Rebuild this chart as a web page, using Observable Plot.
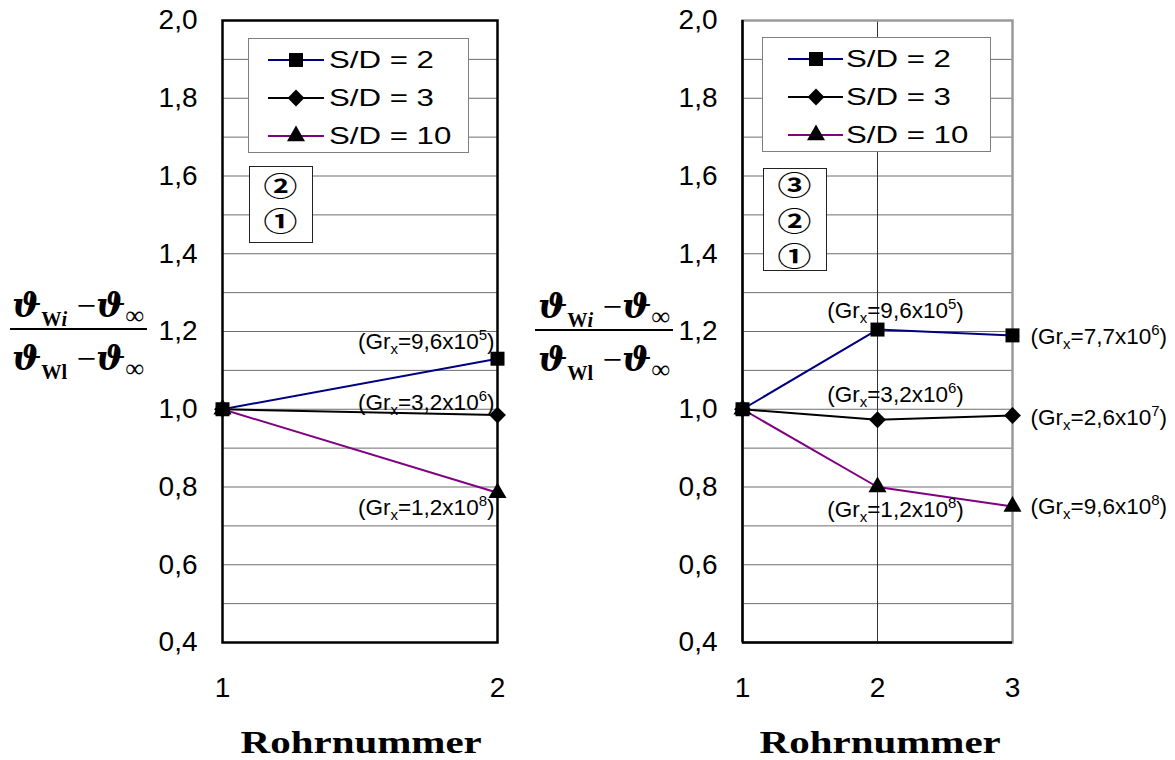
<!DOCTYPE html>
<html><head><meta charset="utf-8">
<script src="https://cdn.jsdelivr.net/npm/d3@7"></script>
<script src="https://cdn.jsdelivr.net/npm/@observablehq/plot@0.6"></script>
<style>
body{margin:0;background:#fff;}
#wrap{position:relative;width:1175px;height:760px;overflow:hidden;font-family:"Liberation Sans",Arial,sans-serif;}
.plot{position:absolute;top:0;}
.box{position:absolute;box-sizing:border-box;background:#fff;}
.row{position:absolute;white-space:nowrap;}
.frac{position:absolute;text-align:center;font-family:"Liberation Serif","Times New Roman",serif;font-weight:bold;font-size:36px;line-height:36px;height:36px;white-space:nowrap;}
.frac span.in{display:inline-block;transform-origin:50% 50%;}
.frac .th{font-family:"DejaVu Serif",serif;font-style:italic;font-size:34px;}
.frac .mi{font-family:"Liberation Serif",serif;font-weight:normal;font-size:34px;}
.frac sub{font-size:20px;vertical-align:-9px;line-height:0;}
.frac sub.inf{font-size:26px;vertical-align:-7px;font-weight:normal;}
.xl{position:absolute;text-align:center;font-family:"Liberation Serif","Times New Roman",serif;font-weight:bold;font-size:32px;line-height:32px;white-space:nowrap;}
.xl span{display:inline-block;transform:scaleX(1.28);transform-origin:50% 50%;}
</style></head><body><div id="wrap"></div>
<script>
// ---------- data ----------
const tubesLeft = [1, 2];
const leftSD2 = [1.0, 1.13];
const leftSD3 = [1.0, 0.985];
const leftSD10 = [1.0, 0.785];

const tubesRight = [1, 2, 3];
const rightSD2 = [1.0, 1.205, 1.19];
const rightSD3 = [1.0, 0.973, 0.984];
const rightSD10 = [1.0, 0.80, 0.75];

const seriesNames = ["S/D = 2", "S/D = 3", "S/D = 10"];
const seriesColors = ["#000080", "#000000", "#800080"];
const seriesSymbols = ["square", "diamond2", "triangle"];
const seriesRadius = [7.9, 7.6, 6.7];

const yTicks = [0.4, 0.6, 0.8, 1.0, 1.2, 1.4, 1.6, 1.8, 2.0];
const yGrid = [0.5, 0.6, 0.7, 0.8, 0.9, 1.0, 1.1, 1.2, 1.3, 1.4, 1.5, 1.6, 1.7, 1.8, 1.9];

const leftGr = ["9,6x10^5", "3,2x10^6", "1,2x10^8"];        // at tube 2
const rightGrTube2 = ["9,6x10^5", "3,2x10^6", "1,2x10^8"];  // at tube 2
const rightGrTube3 = ["7,7x10^6", "2,6x10^7", "9,6x10^8"];  // at tube 3

const circledLeft = ["②", "①"];
const circledRight = ["③", "②", "①"];
const xLabel = "Rohrnummer";

// ---------- helpers ----------
const wrap = document.getElementById("wrap");
const fmt = d => d.toFixed(1).replace(".", ",");

function table(tubes, vals) { return tubes.map((t, i) => ({tube: t, v: vals[i]})); }

function panel({tubes, series, width, left, marginLeft, marginRight, labels, rightStyle}) {
  const marks = [];
  marks.push(Plot.ruleY(yGrid, {stroke: "#6e6e6e", strokeWidth: 1}));
  if (rightStyle) {
    marks.push(Plot.ruleX(tubes.slice(1, -1), {stroke: "#333", strokeWidth: 1}));
    marks.push(Plot.frame({stroke: "#9a9a9a", strokeWidth: 2.5}));
    marks.push(Plot.ruleX([tubes[0]], {stroke: "black", strokeWidth: 2.5}));
    marks.push(Plot.ruleY([yTicks[0]], {stroke: "black", strokeWidth: 2.5}));
  } else {
    marks.push(Plot.frame({stroke: "black", strokeWidth: 2.5}));
  }
  series.forEach((vals, i) => {
    marks.push(Plot.line(table(tubes, vals), {x: "tube", y: "v", stroke: seriesColors[i], strokeWidth: 2}));
  });
  series.forEach((vals, i) => {
    marks.push(Plot.dot(table(tubes, vals), {x: "tube", y: "v", symbol: seriesSymbols[i], r: seriesRadius[i], fill: "black", stroke: "none"}));
  });
  labels.forEach(l => {
    marks.push(Plot.text([{tube: tubes[l.idx], v: series[l.s][l.idx], label: "(Grx=" + l.text + ")"}],
      {x: "tube", y: "v", text: "label", textAnchor: l.anchor, dx: l.dx, dy: l.dy, fontSize: 22.5, fill: "black"}));
  });
  marks.push(Plot.axisY(yTicks, {tickSize: 0, tickPadding: 25, tickFormat: fmt, fontSize: 28, label: null}));
  marks.push(Plot.axisX(tubes, {tickSize: 0, tickPadding: 35, tickFormat: d => String(d), fontSize: 28, label: null}));
  const svg = Plot.plot({
    width, height: 760,
    marginLeft, marginRight, marginTop: 20, marginBottom: 118,
    x: {domain: [tubes[0], tubes[tubes.length - 1]], label: null},
    y: {domain: [yTicks[0], yTicks[yTicks.length - 1]], label: null},
    style: {background: "transparent", fontFamily: '"Liberation Sans", Arial, sans-serif', overflow: "visible", color: "black"},
    marks
  });
  svg.classList.add("plot");
  svg.style.left = left + "px";
  svg.style.position = "absolute";
  wrap.appendChild(svg);
  richText(svg);
  return svg;
}

function richText(svg) {
  const ns = "http://www.w3.org/2000/svg";
  svg.querySelectorAll('g[aria-label="text"] text').forEach(el => {
    const m = /^\(Grx=(.+)x10\^(\d+)\)$/.exec(el.textContent);
    if (!m) return;
    el.textContent = "";
    const parts = [["(Gr", null, 0], ["x", 15, 5], ["=" + m[1] + "x10", null, -5], [m[2], 15, -9], [")", null, 9]];
    parts.forEach(([t, fs, dy]) => {
      const ts = document.createElementNS(ns, "tspan");
      ts.textContent = t;
      if (fs) ts.setAttribute("font-size", fs);
      if (dy) ts.setAttribute("dy", dy);
      el.appendChild(ts);
    });
  });
}

function legend({left, top, width, height, lx0, lx1, mx, tx}) {
  const box = document.createElement("div");
  box.className = "box";
  Object.assign(box.style, {left: left + "px", top: top + "px", width: width + "px", height: height + "px", border: "1.5px solid #7f7f7f"});
  const rowsY = [21, 59, 97];
  const symMap = {square: d3.symbolSquare, diamond2: d3.symbolDiamond2, triangle: d3.symbolTriangle};
  seriesNames.forEach((name, i) => {
    const cy = rowsY[i];
    const s = d3.create("svg").attr("width", lx1 + 4).attr("height", 24)
      .style("position", "absolute").style("left", "0px").style("top", (cy - 12) + "px");
    s.append("line").attr("x1", lx0).attr("x2", lx1).attr("y1", 12).attr("y2", 12)
      .attr("stroke", seriesColors[i]).attr("stroke-width", 2);
    s.append("path").attr("transform", `translate(${mx},12)`)
      .attr("d", d3.symbol(symMap[seriesSymbols[i]], Math.PI * seriesRadius[i] ** 2)()).attr("fill", "black");
    box.appendChild(s.node());
    const t = document.createElement("div");
    t.className = "row";
    t.textContent = name;
    Object.assign(t.style, {left: tx + "px", top: (cy - 12) + "px", fontSize: "24px", lineHeight: "24px",
      transform: "scaleX(1.3)", transformOrigin: "0 50%"});
    box.appendChild(t);
  });
  wrap.appendChild(box);
}

function circled({left, top, width, height, items, rowsY}) {
  const box = document.createElement("div");
  box.className = "box";
  Object.assign(box.style, {left: left + "px", top: top + "px", width: width + "px", height: height + "px", border: "1.5px solid #222"});
  items.forEach((c, i) => {
    const t = document.createElement("div");
    t.className = "row";
    t.textContent = c;
    Object.assign(t.style, {left: "0px", width: (width - 3) + "px", textAlign: "center", top: (rowsY[i] - 15) + "px",
      fontSize: "26px", lineHeight: "30px", fontWeight: "bold", fontFamily: '"Noto Sans CJK JP", "DejaVu Sans", sans-serif', transform: "scaleX(1.3)"});
    box.appendChild(t);
  });
  wrap.appendChild(box);
}

function fraction({x0, x1, barY, numBase, denBase, target}) {
  const cx = (x0 + x1) / 2;
  const mk = (html, base) => {
    const d = document.createElement("div");
    d.className = "frac";
    Object.assign(d.style, {left: (cx - 150) + "px", width: "300px", top: (base - 30) + "px"});
    d.innerHTML = `<span class="in">${html}</span>`;
    wrap.appendChild(d);
    const sp = d.querySelector("span.in");
    const w = sp.getBoundingClientRect().width;
    sp.style.transform = `scaleX(${target / w})`;
  };
  mk('<span class="th">ϑ</span><sub>W<i>i</i></sub> <span class="mi">−</span><span class="th">ϑ</span><sub class="inf">∞</sub>', numBase);
  mk('<span class="th">ϑ</span><sub>Wl</sub> <span class="mi">−</span><span class="th">ϑ</span><sub class="inf">∞</sub>', denBase);
  const bar = document.createElement("div");
  Object.assign(bar.style, {position: "absolute", left: x0 + "px", width: (x1 - x0) + "px", top: (barY - 0.75) + "px", height: "1.5px", background: "black"});
  wrap.appendChild(bar);
}

function xTitle(cx) {
  const d = document.createElement("div");
  d.className = "xl";
  Object.assign(d.style, {left: (cx - 200) + "px", width: "400px", top: "726px"});
  d.innerHTML = `<span>${xLabel}</span>`;
  wrap.appendChild(d);
}

// ---------- panels ----------
panel({
  tubes: tubesLeft, series: [leftSD2, leftSD3, leftSD10],
  width: 590, left: 0, marginLeft: 222, marginRight: 93,
  labels: [
    {s: 0, idx: 1, text: leftGr[0], anchor: "end", dx: -3, dy: -17},
    {s: 1, idx: 1, text: leftGr[1], anchor: "end", dx: -3, dy: -12},
    {s: 2, idx: 1, text: leftGr[2], anchor: "end", dx: -3, dy: 15}
  ]
});
panel({
  tubes: tubesRight, series: [rightSD2, rightSD3, rightSD10],
  width: 585, left: 590, marginLeft: 152, marginRight: 163, rightStyle: true,
  labels: [
    {s: 0, idx: 1, text: rightGrTube2[0], anchor: "middle", dx: 18, dy: -19},
    {s: 1, idx: 1, text: rightGrTube2[1], anchor: "middle", dx: 18, dy: -25},
    {s: 2, idx: 1, text: rightGrTube2[2], anchor: "middle", dx: 18, dy: 23},
    {s: 0, idx: 2, text: rightGrTube3[0], anchor: "start", dx: 18, dy: 1},
    {s: 1, idx: 2, text: rightGrTube3[1], anchor: "start", dx: 18, dy: 2},
    {s: 2, idx: 2, text: rightGrTube3[2], anchor: "start", dx: 18, dy: 0}
  ]
});

// ---------- overlays ----------
legend({left: 248, top: 38, width: 221, height: 115, lx0: 19, lx1: 75, mx: 47, tx: 80});
legend({left: 762, top: 37, width: 229, height: 115, lx0: 25, lx1: 80, mx: 53, tx: 83});
circled({left: 249, top: 166, width: 64, height: 77, items: circledLeft, rowsY: [18, 53]});
circled({left: 763, top: 168, width: 64, height: 103, items: circledRight, rowsY: [15, 51, 86]});
fraction({x0: 10, x1: 147, barY: 329, numBase: 317, denBase: 370, target: 132});
fraction({x0: 535, x1: 673, barY: 330, numBase: 318, denBase: 371, target: 132});
xTitle(361);
xTitle(880);
</script></body></html>
